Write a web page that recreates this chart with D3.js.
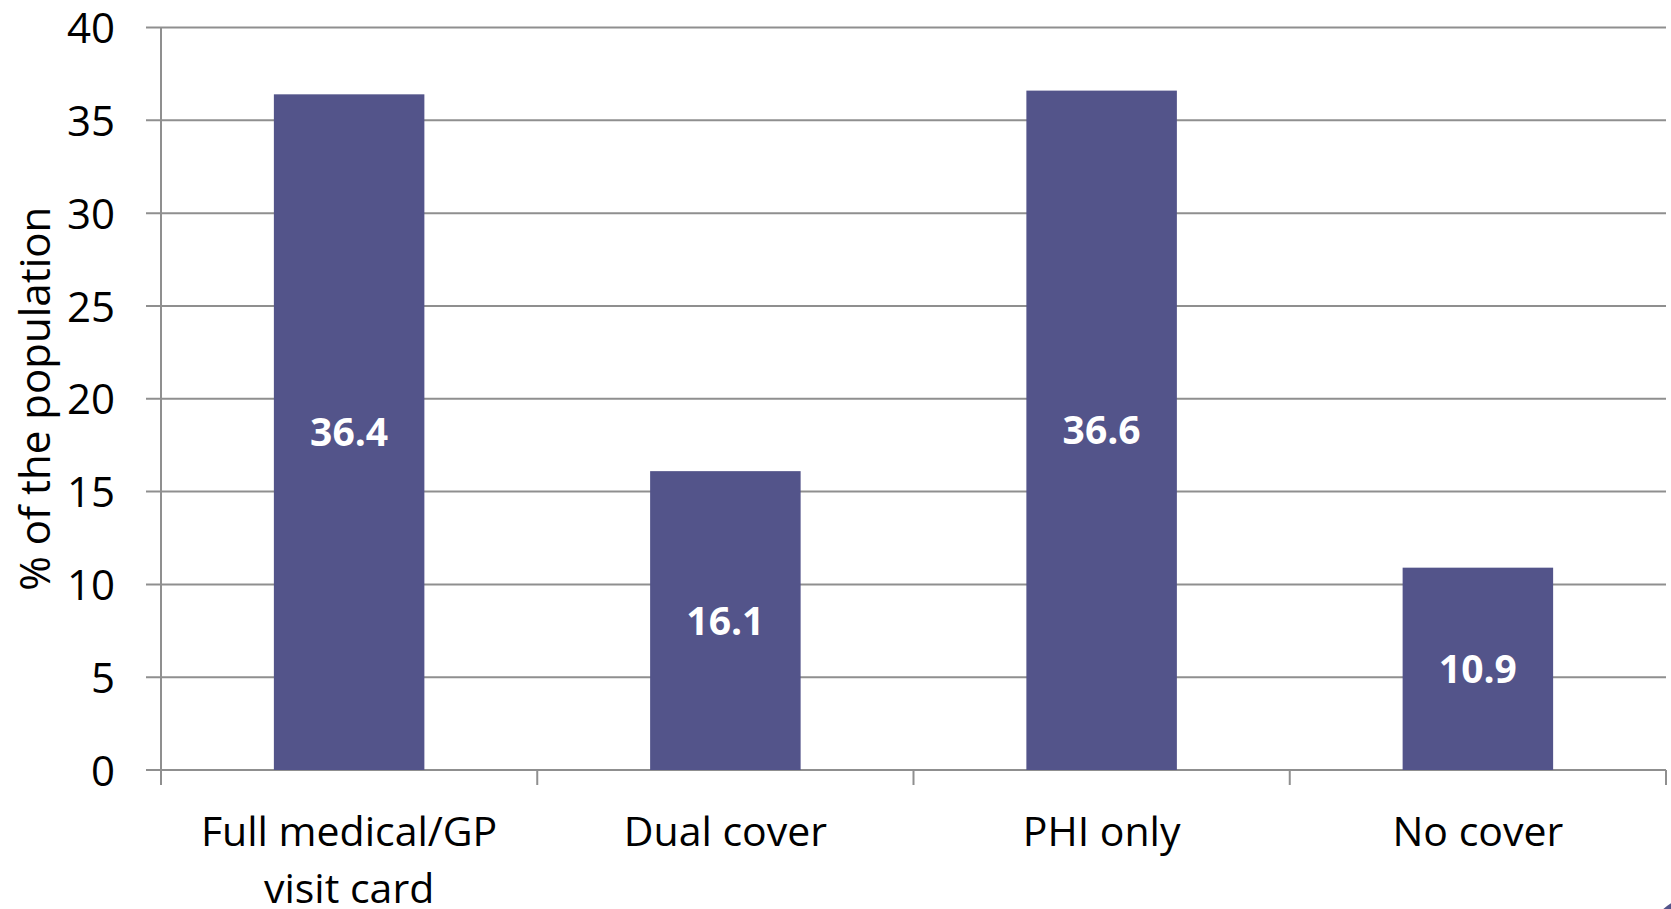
<!DOCTYPE html>
<html>
<head>
<meta charset="utf-8">
<script src="https://cdn.jsdelivr.net/npm/d3@7"></script>
<style>
  html, body { margin: 0; padding: 0; background: #fff; }
  svg { display: block; }
  text { font-family: "Open Sans", "Liberation Sans", sans-serif; }
</style>
</head>
<body>
<svg id="chart" width="1671" height="909"></svg>
<script>
// Health cover categories and share of the population (%)
const categories = ["Full medical/GP visit card", "Dual cover", "PHI only", "No cover"];
const categoryLines = [["Full medical/GP", "visit card"], ["Dual cover"], ["PHI only"], ["No cover"]];
const values = [36.4, 16.1, 36.6, 10.9];
const yTicks = [0, 5, 10, 15, 20, 25, 30, 35, 40];
const yTitle = "% of the population";

const W = 1671, H = 909;
const margin = { top: 27.5, right: 5, bottom: 139, left: 161 };
const width = W - margin.left - margin.right;
const height = H - margin.top - margin.bottom;

const gridColor = "#8f8f8f";
const barColor = "#53548a";

const svg = d3.select("#chart");
const g = svg.append("g").attr("transform", `translate(${margin.left},${margin.top})`);

const x = d3.scaleBand().domain(categories).range([0, width]).paddingInner(0.6).paddingOuter(0.3);
const y = d3.scaleLinear().domain([0, 40]).range([height, 0]);

// horizontal gridlines, extending a little left of the axis as tick marks
g.append("g").selectAll("line").data(yTicks).join("line")
  .attr("x1", -15).attr("x2", width)
  .attr("y1", d => y(d)).attr("y2", d => y(d))
  .attr("stroke", gridColor).attr("stroke-width", 2);

// y axis labels
const yAxis = g.append("g").call(d3.axisLeft(y).tickValues(yTicks).tickSize(0).tickPadding(46));
yAxis.select(".domain").remove();
yAxis.selectAll("text").attr("font-size", 42).attr("fill", "#000").attr("dy", "0.36em")
  .style("font-family", "'Open Sans', sans-serif");

// vertical axis line
g.append("line").attr("x1", 0).attr("x2", 0).attr("y1", y(40)).attr("y2", height + 15)
  .attr("stroke", gridColor).attr("stroke-width", 2);

// category boundary ticks below the x axis
const step = x.step();
const boundaries = d3.range(categories.length + 1).map(i => i * step);
g.append("g").selectAll("line").data(boundaries).join("line")
  .attr("x1", d => d).attr("x2", d => d)
  .attr("y1", height).attr("y2", height + 15)
  .attr("stroke", gridColor).attr("stroke-width", 2);

// bars
g.append("g").selectAll("rect").data(values).join("rect")
  .attr("x", (d, i) => x(categories[i]))
  .attr("width", x.bandwidth())
  .attr("y", d => y(d))
  .attr("height", d => height - y(d))
  .attr("fill", barColor);

// value labels centred in each bar
g.append("g").selectAll("text").data(values).join("text")
  .attr("x", (d, i) => x(categories[i]) + x.bandwidth() / 2)
  .attr("y", d => (y(d) + height) / 2)
  .attr("dy", "0.36em")
  .attr("text-anchor", "middle")
  .attr("font-size", 39).attr("font-weight", 700).attr("fill", "#fff")
  .text(d => d.toFixed(1));

// category labels (wrapped)
const catG = g.append("g").selectAll("text").data(categoryLines).join("text")
  .attr("x", (d, i) => x(categories[i]) + x.bandwidth() / 2)
  .attr("y", height + 76)
  .attr("text-anchor", "middle")
  .attr("font-size", 41).attr("fill", "#000");
catG.selectAll("tspan").data(d => d).join("tspan")
  .attr("x", function () { return d3.select(this.parentNode).attr("x"); })
  .attr("dy", (d, i) => i === 0 ? 0 : 57)
  .text(d => d);

// y axis title
svg.append("text")
  .attr("transform", `translate(50,${margin.top + height / 2}) rotate(-90)`)
  .attr("text-anchor", "middle")
  .attr("font-size", 42).attr("fill", "#000")
  .text(yTitle);

// corner ornament of the slide frame
svg.append("circle").attr("cx", 1700).attr("cy", 950).attr("r", 55).attr("fill", barColor);
</script>
</body>
</html>
